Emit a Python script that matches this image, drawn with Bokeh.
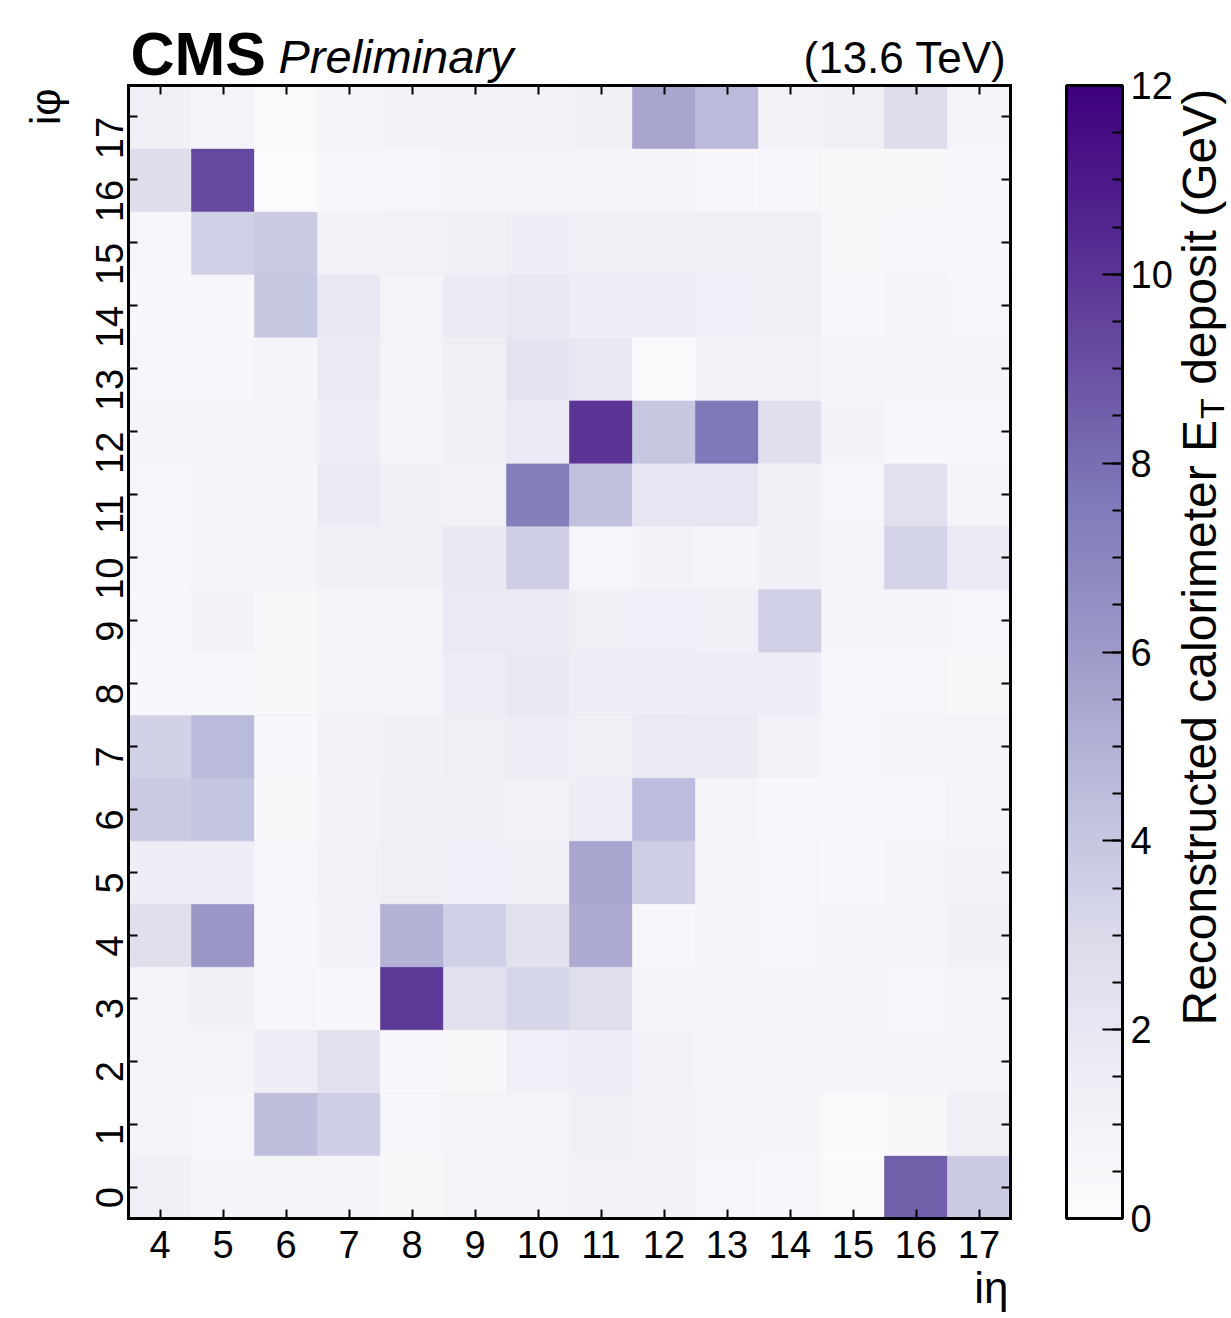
import math
from bokeh.plotting import figure
from bokeh.models import (ColumnDataSource, LinearColorMapper, ColorBar, FixedTicker,
                          SingleIntervalTicker, LinearAxis, Label, Range1d)
from bokeh.palettes import Purples9
from bokeh.embed import file_html
from bokeh.resources import INLINE

# ---------------- data ----------------
ieta = [4, 5, 6, 7, 8, 9, 10, 11, 12, 13, 14, 15, 16, 17]
iphi = [0, 1, 2, 3, 4, 5, 6, 7, 8, 9, 10, 11, 12, 13, 14, 15, 16, 17]
# reconstructed calorimeter E_T deposit (GeV), one row per iphi (0..17), columns ieta 4..17
et_iphi_0 = [1.2, 0.8, 0.8, 0.8, 0.5, 0.9, 0.9, 1.1, 1.0, 0.7, 0.6, 0.2, 8.5, 3.8]
et_iphi_1 = [0.9, 0.6, 4.4, 3.6, 0.7, 0.9, 0.9, 1.3, 1.1, 0.8, 0.8, 0.2, 0.5, 1.2]
et_iphi_2 = [0.9, 0.9, 1.5, 2.4, 0.4, 0.5, 1.4, 1.5, 1.0, 0.8, 0.8, 0.8, 0.8, 0.9]
et_iphi_3 = [0.9, 1.2, 0.7, 0.6, 9.8, 2.5, 3.2, 2.7, 0.8, 0.8, 0.8, 0.8, 0.7, 0.8]
et_iphi_4 = [2.6, 6.2, 0.4, 1.0, 5.0, 3.5, 2.4, 5.3, 0.6, 0.8, 0.7, 0.8, 0.8, 1.2]
et_iphi_5 = [1.5, 1.5, 0.6, 1.1, 1.3, 1.4, 1.3, 5.5, 3.6, 0.9, 0.7, 0.6, 0.8, 1.0]
et_iphi_6 = [3.8, 4.1, 0.5, 1.0, 1.3, 1.3, 1.1, 1.5, 4.5, 0.9, 0.6, 0.6, 0.6, 0.8]
et_iphi_7 = [3.4, 4.6, 0.4, 1.1, 1.2, 1.3, 1.6, 1.2, 1.8, 1.7, 1.0, 0.7, 0.8, 0.9]
et_iphi_8 = [0.4, 0.6, 0.5, 0.9, 0.9, 1.6, 1.9, 1.5, 1.6, 1.6, 1.5, 0.6, 0.6, 0.5]
et_iphi_9 = [0.6, 1.0, 0.5, 0.9, 0.9, 1.8, 1.8, 1.3, 1.4, 1.2, 3.5, 0.8, 0.8, 0.7]
et_iphi_10 = [0.7, 0.8, 0.8, 1.2, 1.2, 1.9, 3.6, 0.7, 1.0, 0.8, 1.2, 0.9, 3.3, 1.8]
et_iphi_11 = [0.7, 0.8, 0.8, 1.7, 1.2, 1.1, 7.4, 4.3, 2.2, 2.2, 1.2, 0.7, 2.5, 0.8]
et_iphi_12 = [0.8, 0.8, 0.9, 1.5, 0.9, 1.2, 1.8, 10.0, 4.0, 7.6, 2.6, 1.0, 0.6, 0.6]
et_iphi_13 = [0.7, 0.7, 0.8, 1.7, 0.9, 1.3, 2.3, 2.0, 0.3, 1.0, 1.1, 0.8, 0.8, 0.8]
et_iphi_14 = [0.4, 0.6, 4.0, 2.0, 0.9, 1.7, 2.0, 1.5, 1.5, 1.4, 1.2, 0.6, 0.8, 0.7]
et_iphi_15 = [0.7, 3.5, 3.8, 1.0, 1.1, 1.2, 1.5, 1.3, 1.3, 1.3, 1.3, 0.5, 0.7, 0.6]
et_iphi_16 = [2.8, 9.3, 0.1, 0.7, 0.7, 0.9, 0.9, 0.9, 0.8, 0.4, 0.7, 0.5, 0.5, 0.6]
et_iphi_17 = [1.2, 0.9, 0.3, 0.8, 1.0, 1.0, 1.0, 1.2, 5.5, 4.6, 1.0, 1.2, 2.8, 0.8]
et_rows = [et_iphi_0, et_iphi_1, et_iphi_2, et_iphi_3, et_iphi_4, et_iphi_5,
           et_iphi_6, et_iphi_7, et_iphi_8, et_iphi_9, et_iphi_10, et_iphi_11,
           et_iphi_12, et_iphi_13, et_iphi_14, et_iphi_15, et_iphi_16, et_iphi_17]
z_low, z_high = 0, 12
cb_tick_step = 2

# ---------------- palette (matplotlib-like Purples, light -> dark) ----------------
stops = list(reversed(Purples9))


def _hex2rgb(h):
    h = h.lstrip('#')
    return [int(h[i:i + 2], 16) for i in (0, 2, 4)]


srgb = [_hex2rgb(c) for c in stops]
palette = []
N = 256
for k in range(N):
    t = k / (N - 1) * (len(srgb) - 1)
    i = min(int(t), len(srgb) - 2)
    f = t - i
    c = [round(srgb[i][j] + (srgb[i + 1][j] - srgb[i][j]) * f) for j in range(3)]
    palette.append('#%02x%02x%02x' % tuple(c))

mapper = LinearColorMapper(palette=palette, low=z_low, high=z_high)

xs, ys, vs = [], [], []
for r, row in zip(iphi, et_rows):
    for e, v in zip(ieta, row):
        xs.append(e)
        ys.append(r)
        vs.append(v)
src = ColumnDataSource(dict(ieta=xs, iphi=ys, et=vs))

# ---------------- layout (page pixels) ----------------
W, H = 1231, 1314
BOX_L, BOX_R, BOX_T, BOX_B = 128, 1010, 85, 1218
x_lo, x_hi = ieta[0] - 0.5, ieta[-1] + 0.5
y_lo, y_hi = iphi[0] - 0.5, iphi[-1] + 0.5
ppx = (BOX_R - BOX_L) / (x_hi - x_lo)
ppy = (BOX_B - BOX_T) / (y_hi - y_lo)

FONT = "Liberation Sans"

p = figure(width=W, height=H,
           x_range=Range1d(x_lo - BOX_L / ppx, x_hi + (W - BOX_R) / ppx),
           y_range=Range1d(y_lo - (H - BOX_B) / ppy, y_hi + BOX_T / ppy),
           output_backend="svg", toolbar_location=None,
           x_axis_location=None, y_axis_location=None,
           min_border_left=0, min_border_right=0, min_border_top=0, min_border_bottom=0)
p.title.visible = False
p.xgrid.visible = False
p.ygrid.visible = False
p.outline_line_color = None
p.background_fill_color = "white"
p.border_fill_color = "white"

p.rect(x='ieta', y='iphi', width=1, height=1, source=src,
       fill_color={'field': 'et', 'transform': mapper},
       line_color={'field': 'et', 'transform': mapper}, line_width=0.6)

xt = FixedTicker(ticks=ieta)
yt = FixedTicker(ticks=iphi)


def make_axis(ticker, loc, bounds, labels=True, orientation=None, standoff=5):
    ax = LinearAxis(ticker=ticker, fixed_location=loc, bounds=bounds)
    ax.axis_line_color = "black"
    ax.axis_line_width = 3
    ax.axis_line_cap = "square"
    ax.major_tick_in = 9
    ax.major_tick_out = 0
    ax.major_tick_line_width = 2
    ax.major_tick_line_color = "black"
    ax.minor_tick_line_color = None
    ax.major_label_text_font = FONT
    ax.major_label_text_font_size = "38px"
    ax.major_label_standoff = standoff
    if labels:
        ax.major_label_text_color = "black"
    else:
        ax.major_label_text_color = None
    if orientation is not None:
        ax.major_label_orientation = orientation
    return ax


p.add_layout(make_axis(xt, y_lo, (x_lo, x_hi), standoff=12), "below")
p.add_layout(make_axis(xt, y_hi, (x_lo, x_hi), labels=False), "above")
p.add_layout(make_axis(yt, x_lo, (y_lo, y_hi), orientation=math.pi / 2, standoff=19), "left")
p.add_layout(make_axis(yt, x_hi, (y_lo, y_hi), labels=False), "right")

cb = ColorBar(color_mapper=mapper,
              ticker=SingleIntervalTicker(interval=cb_tick_step, num_minor_ticks=4),
              width=56, height=BOX_B - BOX_T, padding=0, margin=0,
              location=(1066, H - BOX_B),
              major_tick_in=20, major_tick_out=0, minor_tick_in=10, minor_tick_out=0,
              major_tick_line_color="black", major_tick_line_width=2,
              minor_tick_line_color="black", minor_tick_line_width=2,
              bar_line_color="black", bar_line_width=3,
              major_label_text_font=FONT, major_label_text_font_size="38px",
              major_label_text_color="black", label_standoff=8,
              background_fill_color=None, border_line_color=None)
p.add_layout(cb)

MID = 0.35  # distance (em) from the alphabetic baseline to the text's middle


# -------- text annotations (screen units: x from left, y from bottom of canvas) --------
def lab(text, px, py, fs, style="normal", align="left", vertical=False):
    """px, py: page position of the text's baseline anchor."""
    if vertical:
        px = px - MID * fs
    else:
        py = py - MID * fs
    p.add_layout(Label(x=px, y=H - py, x_units="screen", y_units="screen", text=text,
                       text_font=FONT, text_font_size="%dpx" % round(fs),
                       text_font_style=style, text_color="black",
                       text_align=align, text_baseline="middle",
                       angle=math.pi / 2 if vertical else 0.0))


lab("CMS", 130, 75, 61, style="bold")
lab("Preliminary", 278, 72, 47, style="italic")
lab("(13.6 TeV)", 1006, 72, 44, align="right")
lab("i\u03c6", 60, 88, 42, align="right", vertical=True)
lab("i\u03b7", 1008, 1302, 44, align="right")

# colour-bar title with subscript T (reads bottom to top)
fs = 48
sub = round(fs * 0.7)
start = 1025
w1 = 12.615 * fs
lab("Reconstructed calorimeter E", 1216, start, fs, vertical=True)
lab("T", 1223, start - w1 - 1, sub, vertical=True)
lab("deposit (GeV)", 1216, start - w1 - 1 - 0.611 * sub - 0.278 * fs, fs, vertical=True)

open("out.html", "w").write(file_html(p, INLINE))
